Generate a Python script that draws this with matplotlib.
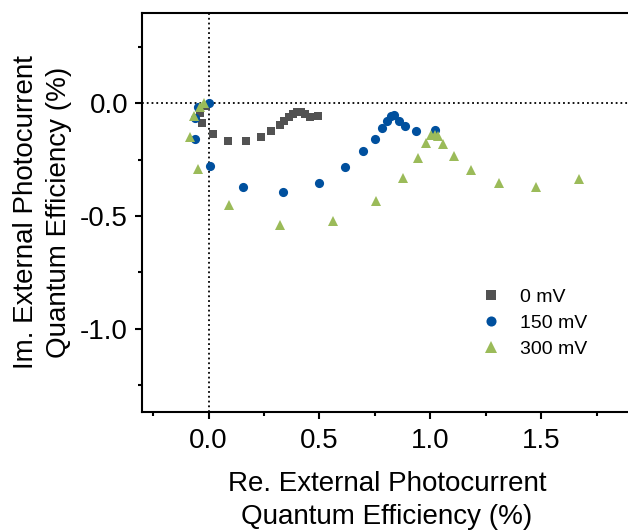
import matplotlib.pyplot as plt

plt.rcParams['font.family'] = ['Liberation Sans', 'DejaVu Sans']
plt.rcParams['axes.unicode_minus'] = False

# Nyquist-type data: real vs imaginary external photocurrent QE (%)
re_0mv = [-0.01, -0.037, -0.03, 0.018, 0.089, 0.167, 0.236, 0.284, 0.321, 0.342,
          0.363, 0.382, 0.400, 0.418, 0.437, 0.459, 0.496]
im_0mv = [-0.01, -0.044, -0.085, -0.135, -0.168, -0.168, -0.149, -0.121, -0.095, -0.076,
          -0.058, -0.045, -0.038, -0.039, -0.047, -0.058, -0.054]

re_150mv = [0.0, -0.048, -0.062, -0.062, 0.006, 0.156, 0.338, 0.498, 0.616, 0.698,
            0.750, 0.784, 0.804, 0.825, 0.835, 0.858, 0.888, 0.936, 1.022]
im_150mv = [0.0, -0.014, -0.066, -0.158, -0.277, -0.372, -0.391, -0.351, -0.283, -0.212,
            -0.156, -0.110, -0.078, -0.054, -0.052, -0.076, -0.101, -0.122, -0.118]

re_300mv = [-0.022, -0.037, -0.067, -0.084, -0.048, 0.093, 0.323, 0.560, 0.754, 0.877,
            0.947, 0.982, 1.003, 1.022, 1.037, 1.059, 1.106, 1.185, 1.310, 1.479, 1.671]
im_300mv = [0.0, -0.014, -0.055, -0.147, -0.291, -0.452, -0.538, -0.520, -0.434, -0.331,
            -0.240, -0.177, -0.140, -0.140, -0.145, -0.182, -0.234, -0.296, -0.354, -0.372, -0.336]

fig = plt.figure(figsize=(6.28, 5.31), dpi=100)
ax = fig.add_axes([0.2261, 0.2247, 0.7803, 0.7502])

ax.axhline(0, color='black', linestyle=':', linewidth=1.3, zorder=1)
ax.axvline(0, color='black', linestyle=':', linewidth=1.3, zorder=1)

ax.plot(re_0mv, im_0mv, 's', color='#525252', markersize=6.0, markeredgewidth=0,
        label='0 mV', zorder=3)
ax.plot(re_150mv, im_150mv, 'o', color='#00509e', markersize=6.6, markeredgewidth=0,
        label='150 mV', zorder=3)
ax.plot(re_300mv, im_300mv, '^', color='#9bbb59', markersize=7.6, markeredgewidth=0,
        label='300 mV', zorder=3)

ax.set_xlim(-0.3, 1.91)
ax.set_ylim(-1.368, 0.40)
ax.set_xticks([0.0, 0.5, 1.0, 1.5])
ax.set_yticks([-1.0, -0.5, 0.0])
ax.set_xticks([-0.25, 0.25, 0.75, 1.25, 1.75], minor=True)
ax.set_yticks([-1.25, -0.75, -0.25, 0.25], minor=True)
ax.tick_params(which='major', length=5, width=1.5, labelsize=20, pad=5)
ax.tick_params(which='minor', length=3, width=1.5)
ax.tick_params(axis='x', which='major', pad=7)

for side in ['left', 'bottom', 'top']:
    ax.spines[side].set_linewidth(1.5)
ax.spines['right'].set_visible(False)

ax.set_xlabel('Re. External Photocurrent\nQuantum Efficiency (%)', fontsize=20,
              linespacing=1.35, labelpad=12)
ax.set_ylabel('Im. External Photocurrent\nQuantum Efficiency (%)', fontsize=20,
              linespacing=1.35, labelpad=6)

ax.legend(loc='center left', bbox_to_anchor=(0.766, 0.3917), bbox_transform=fig.transFigure,
          frameon=False, fontsize=14, borderpad=0, borderaxespad=0,
          handletextpad=1.0, labelspacing=0.42, handlelength=1.0, markerscale=1.1)

fig.savefig('out.png', dpi=100)
